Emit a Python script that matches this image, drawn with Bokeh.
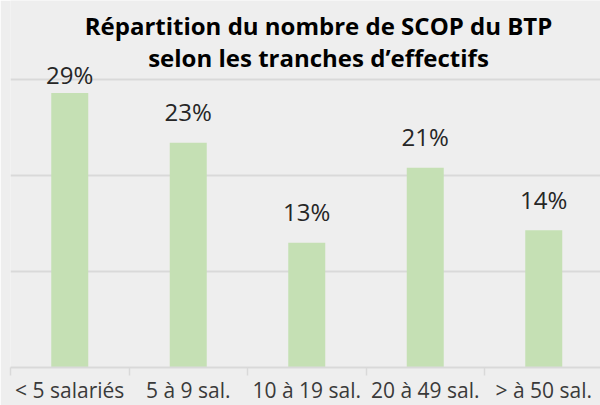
from bokeh.plotting import figure
from bokeh.models import Range1d, FixedTicker, ColumnDataSource, Label
from bokeh.core.properties import value
from bokeh.embed import file_html
from bokeh.resources import INLINE

# ---- data ----
categories = ["< 5 salariés", "5 à 9 sal.", "10 à 19 sal.", "20 à 49 sal.", "> à 50 sal."]
shares = [0.286, 0.234, 0.130, 0.208, 0.143]
grid_ticks = [0.1, 0.2, 0.3]
title_lines = ["Répartition du nombre de SCOP du BTP", "selon les tranches d’effectifs"]

# ---- layout constants ----
BORDER_L = 10
FRAME_W = 590
FRAME_H = 367
CAT_PX = 118.5
PX_PER_UNIT = 960.0

BG = "#eeeeee"
GRID = "#d9d9d9"
BAR = "#c5e0b4"
FONT = "Open Sans"

n = len(categories)
centers = [i + 0.5 for i in range(n)]
boundaries = list(range(n + 1))
labels = ["{:.0%}".format(v) for v in shares]
gap = 31.0 / PX_PER_UNIT
label_cap = 293.0 / PX_PER_UNIT
label_y = [min(v + gap, label_cap) for v in shares]

src = ColumnDataSource(dict(x=centers, top=shares, ly=label_y, lab=labels))

p = figure(frame_width=FRAME_W, frame_height=FRAME_H, output_backend="svg", toolbar_location=None,
           x_range=Range1d(0, FRAME_W / CAT_PX), y_range=Range1d(0, FRAME_H / PX_PER_UNIT),
           y_axis_location=None,
           min_border_left=BORDER_L, min_border_right=0, min_border_top=0,
           min_border_bottom=0)
p.background_fill_color = BG
p.border_fill_color = BG
p.outline_line_color = None

p.xgrid.visible = False
p.ygrid.ticker = FixedTicker(ticks=grid_ticks)
p.ygrid.grid_line_color = GRID
p.ygrid.grid_line_width = 2

ax = p.xaxis[0]
ax.ticker = FixedTicker(ticks=centers, minor_ticks=boundaries)
ax.major_label_overrides = {c: lab for c, lab in zip(centers, categories)}
ax.major_tick_out = 0
ax.major_tick_in = 0
ax.minor_tick_out = 8
ax.minor_tick_in = 0
ax.minor_tick_line_color = GRID
ax.minor_tick_line_width = 1.5
ax.axis_line_color = GRID
ax.axis_line_width = 2
ax.major_label_text_font = FONT
ax.major_label_text_font_size = "21px"
ax.major_label_text_color = "#3a3a3a"
ax.major_label_standoff = 0

p.vbar(x="x", top="top", width=37 / CAT_PX, source=src, fill_color=BAR, line_color=None)

p.text(x="x", y="ly", text="lab", source=src, text_align="center", text_baseline="alphabetic",
       text_font=value(FONT), text_font_size="24px", text_color="#262626")

for txt, yy in zip(title_lines, [342.0, 309.6]):
    p.add_layout(Label(x=308, y=yy, x_units="screen", y_units="screen", text=txt,
                       text_align="center", text_baseline="alphabetic",
                       text_font=FONT, text_font_style="bold",
                       text_font_size="24px", text_color="#000000"))

open("out.html", "w").write(file_html(p, INLINE))
